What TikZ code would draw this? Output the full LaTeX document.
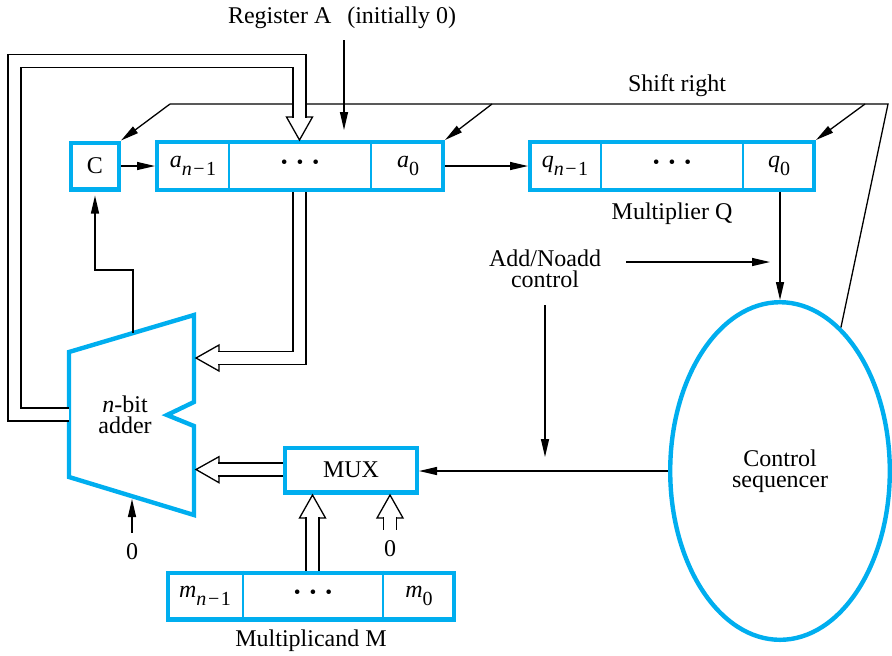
\documentclass[tikz,border=0pt]{standalone}
\usepackage{fontspec}
\setmainfont{Liberation Serif}
\usetikzlibrary{arrows.meta, positioning, shapes.geometric, calc}

\definecolor{regblue}{HTML}{00AEEF}

% register cell text: letter with lowered subscript
\newcommand{\sub}[2]{\textit{#1}\raisebox{-4pt}{\fontsize{10}{10}\selectfont #2}}
\newcommand{\nmo}{\textit{n}\hspace{0.8pt}−\hspace{0.8pt}1}
\newcommand{\threedots}{{\fontsize{14}{14}\selectfont\textbf{·\hspace{3.2pt}·\hspace{3.2pt}·}}}
% open head of a bus: tip, point back along the bus
\newcommand{\hollowhead}[2]{%
  \draw[headline] (#1) -- ($(#1)!11.5pt!(#2)!6.5pt!90:(#1)$)
    -- ($(#1)!11.5pt!(#2)!6.5pt!-90:(#1)$) -- cycle;}

\tikzset{
  blk/.style={draw=regblue, line width=2.2pt, fill=white, inner sep=0pt},
  cell/.style={draw=regblue, line width=0.6pt},
  wire/.style={line width=0.65pt},
  arr/.style={wire, -{Triangle[length=9pt,width=4pt]}},
  bus/.style={double, double distance=5.85pt, line width=0.65pt},
  headline/.style={line width=0.65pt, fill=white, line join=miter},
}

\begin{document}
\begin{tikzpicture}[x=0.5pt, y=-0.5pt, font=\fontsize{12}{10.5}\selectfont]
\useasboundingbox (0,0) rectangle (892,655);

% registers
\node[blk, minimum width=23.8pt, minimum height=23.3pt] (C) at (95,166) {C};
\node[blk, minimum width=142.8pt, minimum height=23.8pt] (regA) at (300,166) {};
\node[blk, minimum width=141.8pt, minimum height=23.8pt] (regQ) at (672,166) {};
\node[blk, minimum width=142.8pt, minimum height=23.3pt] (regM) at (311,596) {};
\node[blk, minimum width=65.8pt, minimum height=22.3pt] (mux) at (351,470) {MUX};
\node[blk, ellipse, minimum width=109.8pt, minimum height=168.8pt, align=center] (seq) at (780,471) {Control\\sequencer};

\draw[cell] ([xshift=37pt]regA.north west) -- ([xshift=37pt]regA.south west);
\draw[cell] ([xshift=-37pt]regA.north east) -- ([xshift=-37pt]regA.south east);
\draw[cell] ([xshift=36.5pt]regQ.north west) -- ([xshift=36.5pt]regQ.south west);
\draw[cell] ([xshift=-36.5pt]regQ.north east) -- ([xshift=-36.5pt]regQ.south east);
\draw[cell] ([xshift=38.5pt]regM.north west) -- ([xshift=38.5pt]regM.south west);
\draw[cell] ([xshift=-36.5pt]regM.north east) -- ([xshift=-36.5pt]regM.south east);

\node (an) at ([xshift=19pt]regA.west) {\sub{a}{\nmo}};
\node (adots) at (regA) {\threedots};
\node (a0) at ([xshift=-18.5pt]regA.east) {\sub{a}{0}};
\node (qn) at ([xshift=18.5pt]regQ.west) {\sub{q}{\nmo}};
\node (qdots) at (regQ) {\threedots};
\node (q0) at ([xshift=-18.5pt]regQ.east) {\sub{q}{0}};
\node (mn) at ([xshift=19.5pt]regM.west) {\sub{m}{\nmo}};
\node (mdots) at ([xshift=1pt]regM) {\threedots};
\node (m0) at ([xshift=-18.5pt]regM.east) {\sub{m}{0}};

% adder
\coordinate (ad1) at (69,352);
\coordinate (ad2) at (194,315);
\coordinate (ad3) at (194,402);
\coordinate (ad4) at (167,415);
\coordinate (ad5) at (194,426);
\coordinate (ad6) at (194,515);
\coordinate (ad7) at (69,477);
\draw[regblue, line width=2.2pt, line join=miter] (ad1) -- (ad2) -- (ad3) -- (ad4) -- (ad5) -- (ad6) -- (ad7) -- cycle;
\node[align=center] (adder) at (125,415) {\textit{n}-bit\\adder};

% labels
\node (lblA) at (342,18) {Register A\hspace{8pt}(initially 0)};
\node (lblS) at (677,86) {Shift right};
\node (lblQ) at (672,214) {Multiplier Q};
\node (lblM) at (311,641) {Multiplicand M};
\node[align=center] (ctrl) at (545,269) {Add/Noadd\\control};
\node (z1) at (132,552) {0};
\node (z2) at (390,549) {0};

% control wires
\coordinate (inA) at (344,40);
\coordinate (sr1) at (170,104);
\coordinate (sr2) at (492,104);
\coordinate (sr3) at (865,104);
\coordinate (sr4) at (888,104);
\coordinate (anEnd) at (770,262);
\coordinate (cout) at (133,333);
\coordinate (cin) at (132,497);

\draw[arr] (inA) -- ([yshift=5pt]inA |- regA.north);
\draw[arr] (C) -- (regA);
\draw[arr] (regA.east) -- (regQ.west);
\draw[wire] (seq.67) -- (sr4) -- (sr1);
\draw[arr] (sr1) -- (C.north east);
\draw[arr] (sr2) -- (regA.north east);
\draw[arr] (sr3) -- (regQ.north east);
\draw[arr] (seq.north |- regQ.south) -- (seq.north);
\draw[arr] ([xshift=9pt]ctrl.east |- anEnd) -- (anEnd);
\draw[arr, shorten >=6.5pt] ([yshift=-5pt]ctrl.south) -- (ctrl.south |- mux.east);
\draw[arr] (seq.west) -- (seq.west -| mux.east);
\draw[arr, shorten >=2pt] (cout) -- (133,270) -| (C.south);
\draw[arr, shorten <=2pt, shorten >=1pt] (z1.north) -- (cin);

% buses
\coordinate (b1tip) at (299.5,140);
\hollowhead{b1tip}{299.5,61}
\draw[bus] (69,414.5) -- (14.5,414.5) -- (14.5,61) -- (299.5,61) -- ($(b1tip)!11.1pt!(299.5,61)$);

\coordinate (b2tip) at (196,358);
\hollowhead{b2tip}{299.5,358}
\draw[bus] (299.5,192) -- (299.5,358) -- ($(b2tip)!11.1pt!(299.5,358)$);

\coordinate (b3tip) at (196,469.5);
\hollowhead{b3tip}{mux.west}
\draw[bus] (mux.west |- b3tip) -- ($(b3tip)!11.1pt!(283,469.5)$);

\coordinate (b4tip) at (312.5,495);
\hollowhead{b4tip}{312.5,571}
\draw[bus] (b4tip |- regM.north) -- ($(b4tip)!11.1pt!(312.5,571)$);

\coordinate (b5tip) at (390,495);
\hollowhead{b5tip}{390,535}
\draw[bus] ([yshift=2pt]z2.north) -- ($(b5tip)!11.1pt!(390,535)$);
\end{tikzpicture}
\end{document}
